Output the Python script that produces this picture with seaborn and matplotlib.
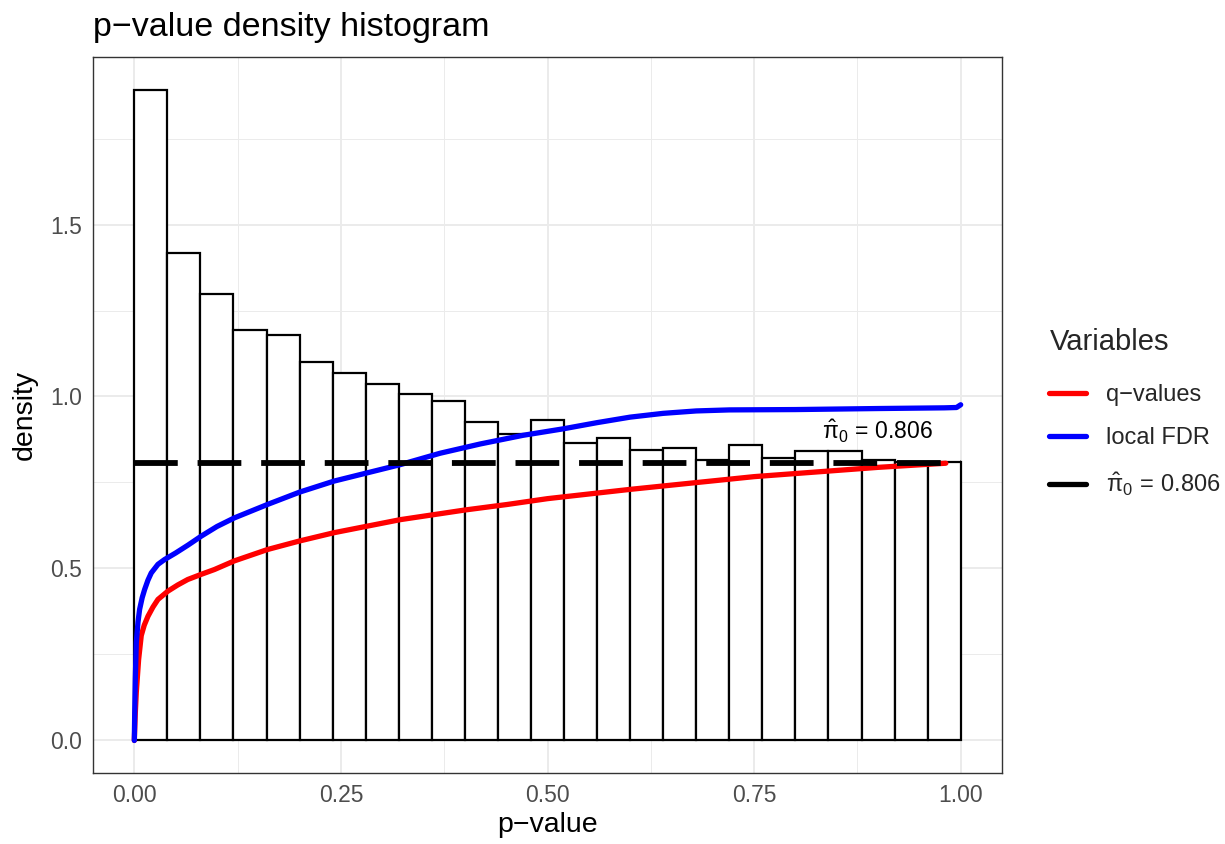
import numpy as np
import pandas as pd
import matplotlib
matplotlib.use("Agg")
import matplotlib.pyplot as plt
from matplotlib.ticker import MultipleLocator, FixedLocator
from matplotlib.lines import Line2D
import seaborn as sns

# ---------------- data ----------------
bin_edges = [round(0.04 * i, 2) for i in range(26)]
bin_density = [1.892, 1.418, 1.299, 1.193, 1.179, 1.101, 1.067, 1.035, 1.006, 0.986,
               0.927, 0.890, 0.933, 0.865, 0.880, 0.844, 0.851, 0.815, 0.860, 0.822,
               0.842, 0.842, 0.816, 0.811, 0.810]

q_p = [0.0, 0.0012, 0.0024, 0.0052, 0.0084, 0.012, 0.0165, 0.0226, 0.0286, 0.0406,
       0.0525, 0.0647, 0.081, 0.097, 0.121, 0.161, 0.20, 0.2416, 0.322, 0.40,
       0.451, 0.50, 0.60, 0.75, 0.90, 0.982]
q_val = [0.0, 0.08, 0.14, 0.235, 0.305, 0.335, 0.361, 0.388, 0.41, 0.434,
         0.452, 0.468, 0.483, 0.497, 0.522, 0.555, 0.580, 0.604, 0.642, 0.670,
         0.686, 0.703, 0.730, 0.767, 0.794, 0.806]

lfdr_p = [0.0, 0.0006, 0.0012, 0.0024, 0.0045, 0.0064, 0.0095, 0.0125, 0.0165, 0.0205,
          0.0286, 0.0366, 0.05, 0.065, 0.081, 0.10, 0.121, 0.161, 0.20, 0.2416,
          0.322, 0.37, 0.4186, 0.47, 0.519, 0.56, 0.60, 0.64, 0.68, 0.72,
          0.80, 0.90, 0.98, 0.995, 1.0]
lfdr_val = [0.0, 0.10, 0.18, 0.285, 0.345, 0.381, 0.415, 0.439, 0.466, 0.487,
            0.512, 0.526, 0.545, 0.568, 0.594, 0.622, 0.647, 0.686, 0.722, 0.754,
            0.802, 0.835, 0.862, 0.887, 0.906, 0.924, 0.940, 0.951, 0.958, 0.961,
            0.962, 0.965, 0.967, 0.968, 0.976]

pi0 = 0.806
pi0_label = r"$\hat{\pi}_0\,=\,0.806$"
x_ticks = [0.0, 0.25, 0.5, 0.75, 1.0]
x_ticklabels = ["0.00", "0.25", "0.50", "0.75", "1.00"]
y_ticks = [0.0, 0.5, 1.0, 1.5]
y_ticklabels = ["0.0", "0.5", "1.0", "1.5"]
legend_labels = ["q\u2212values", "local FDR", pi0_label]

# ---------------- style ----------------
sns.set_style("white")
plt.rcParams["font.family"] = ["Liberation Sans", "DejaVu Sans"]
plt.rcParams["mathtext.fontset"] = "custom"
plt.rcParams["mathtext.rm"] = "Liberation Sans"
plt.rcParams["mathtext.it"] = "Liberation Sans"

fig = plt.figure(figsize=(12.25, 8.44), dpi=100)
ax = fig.add_axes([93 / 1225, 1 - 773 / 844, (1002 - 93) / 1225, (773 - 57) / 844])

# grid
ax.set_axisbelow(True)
ax.xaxis.set_minor_locator(MultipleLocator(0.125))
ax.yaxis.set_minor_locator(MultipleLocator(0.25))
ax.grid(which="major", color="#EBEBEB", linewidth=1.4)
ax.grid(which="minor", color="#EBEBEB", linewidth=0.7)

# histogram
centers = [(bin_edges[i] + bin_edges[i + 1]) / 2 for i in range(len(bin_density))]
hist_df = pd.DataFrame({"p": centers, "density": bin_density})
sns.histplot(data=hist_df, x="p", weights="density", bins=bin_edges, stat="count",
             color="white", edgecolor="black", linewidth=1.6, alpha=1, ax=ax)

# lines
sns.lineplot(x=q_p, y=q_val, color="red", linewidth=3.8, ax=ax, sort=False)
sns.lineplot(x=lfdr_p, y=lfdr_val, color="blue", linewidth=3.8, ax=ax, sort=False)
ax.axhline(pi0, xmin=(0 + 0.05) / 1.1, xmax=(1 + 0.05) / 1.1, color="black",
           linewidth=4.2, dashes=(7.5, 3.4), solid_capstyle="butt", dash_capstyle="butt")

ax.text(0.9, 0.9, pi0_label, ha="center", va="center", fontsize=16.5, color="black")

# axes
ax.set_xlim(-0.05, 1.05)
ax.set_ylim(-0.0946, 1.987)
ax.xaxis.set_major_locator(FixedLocator(x_ticks))
ax.yaxis.set_major_locator(FixedLocator(y_ticks))
ax.set_xticklabels(x_ticklabels)
ax.set_yticklabels(y_ticklabels)
ax.tick_params(which="major", length=3.6, width=1.0, color="#333333",
               labelsize=16.5, labelcolor="#4D4D4D", pad=4)
ax.tick_params(which="minor", length=0)
for s in ax.spines.values():
    s.set_color("#333333")
    s.set_linewidth(1.0)

ax.set_xlabel("p\u2212value", fontsize=20.5, color="black", labelpad=4)
ax.set_ylabel("density", fontsize=20.5, color="black", labelpad=9)
ax.set_title("p\u2212value density histogram", loc="left", fontsize=24.5, pad=15,
             color="black")

# legend
handles = [Line2D([], [], color="red", linewidth=3.8),
           Line2D([], [], color="blue", linewidth=3.8),
           Line2D([], [], color="black", linewidth=3.8)]
leg = fig.legend(handles, legend_labels,
                 title="Variables", loc="upper left",
                 bbox_to_anchor=(1040 / 1225, 1 - 319 / 844), frameon=False,
                 fontsize=17, title_fontsize=21, handlelength=1.55,
                 handletextpad=0.85, labelspacing=0.9, borderaxespad=0)
leg._legend_box.align = "left"
leg._legend_box.sep = 20

fig.savefig("out.png", dpi=100)
